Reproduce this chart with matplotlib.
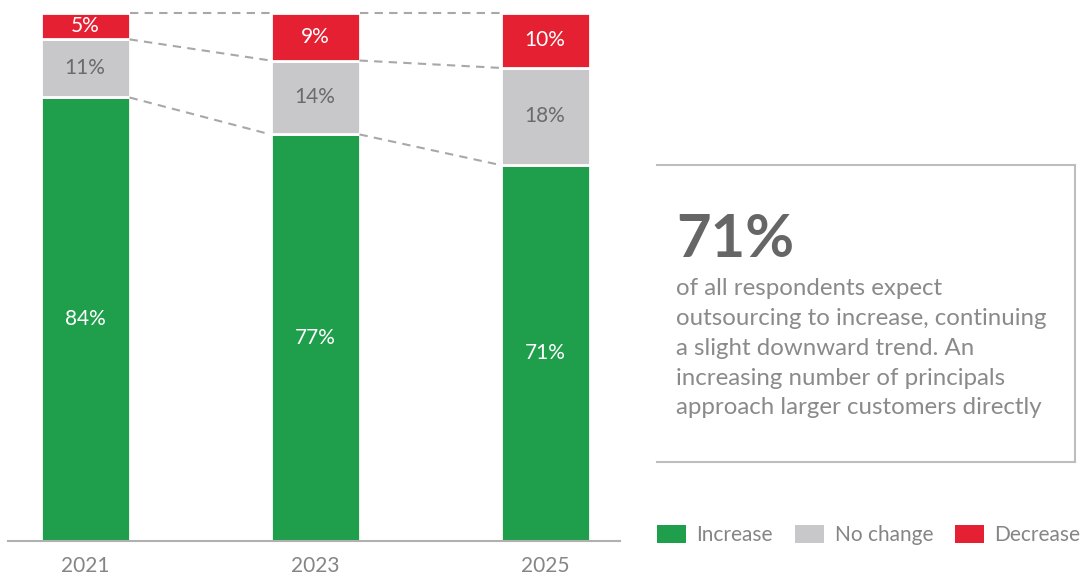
import matplotlib
matplotlib.use("Agg")
import matplotlib.pyplot as plt
from matplotlib.patches import Patch
import numpy as np

plt.rcParams['font.family'] = ['Lato', 'DejaVu Sans']

# データ（2025は図から読んだ値、ラベルは丸めて表示）
years = ["2021", "2023", "2025"]
increase = [84, 77, 71.2]
no_change = [11, 14, 18.4]
decrease = [5, 9, 10.4]

series_names = ["Increase", "No change", "Decrease"]
colors = ["#1f9e4b", "#c8c8ca", "#e42032"]
label_colors = ["white", "#6b6b6b", "white"]

headline = "71%"
body_text = ("of all respondents expect\n"
             "outsourcing to increase, continuing\n"
             "a slight downward trend. An\n"
             "increasing number of principals\n"
             "approach larger customers directly")

W, H = 1083, 577
fig = plt.figure(figsize=(W / 100, H / 100), dpi=100)

# 棒グラフ
ax = fig.add_axes([8 / W, 36 / H, 612 / W, 528 / H])
x = np.arange(len(years))
bw = 0.387
stack = [increase, no_change, decrease]
bottom = np.zeros(len(years))
bounds = []
for vals, c, lc in zip(stack, colors, label_colors):
    vals = np.array(vals, dtype=float)
    ax.bar(x, vals, bw, bottom=bottom, color=c, edgecolor="white", linewidth=2)
    for xi, b, v in zip(x, bottom, vals):
        ax.text(xi, b + v / 2, f"{round(v)}%", ha="center", va="center",
                color=lc, fontsize=15)
    bottom = bottom + vals
    bounds.append(bottom.copy())

# 破線の接続線
for tops in bounds:
    for i in range(len(years) - 1):
        ax.plot([x[i] + bw / 2, x[i + 1] - bw / 2], [tops[i], tops[i + 1]],
                ls=(0, (4, 3)), color="#a8a8a8", lw=1.5, clip_on=False)

ax.set_xlim(-0.335, 2.326)
ax.set_ylim(0, 100)
ax.set_xticks(x)
ax.set_xticklabels(years, fontsize=15, color="#858585")
ax.tick_params(axis="x", length=0, pad=11)
ax.set_yticks([])
for s in ["top", "right", "left"]:
    ax.spines[s].set_visible(False)
ax.spines["bottom"].set_color("#b0b0b0")
ax.spines["bottom"].set_linewidth(1.5)

# テキストボックス
bx = fig.add_axes([657 / W, (H - 462) / H, (1075 - 657) / W, (462 - 165) / H])
bx.set_xticks([])
bx.set_yticks([])
bx.patch.set_alpha(0)
bx.spines["left"].set_visible(False)
for s in ["top", "right", "bottom"]:
    bx.spines[s].set_color("#bdbdbd")
    bx.spines[s].set_linewidth(1.5)
bx.text(19 / 418, 1 - 48 / 297, headline, transform=bx.transAxes, fontsize=43,
        fontweight="bold", color="#666666", ha="left", va="top")
bx.text(19 / 418, 1 - 113 / 297, body_text, transform=bx.transAxes, fontsize=17.3,
        color="#8a8a8a", ha="left", va="top", linespacing=1.52)

# 凡例
handles = [Patch(facecolor=c, edgecolor="none") for c in colors]
fig.legend(handles, series_names, loc="center left",
           bbox_to_anchor=(657 / W, (H - 535) / H), ncol=3, frameon=False,
           fontsize=15, handlelength=1.4, handleheight=1.0, handletextpad=0.5,
           columnspacing=1.05, borderpad=0, borderaxespad=0, labelcolor="#858585")

fig.savefig("out.png", dpi=100)
